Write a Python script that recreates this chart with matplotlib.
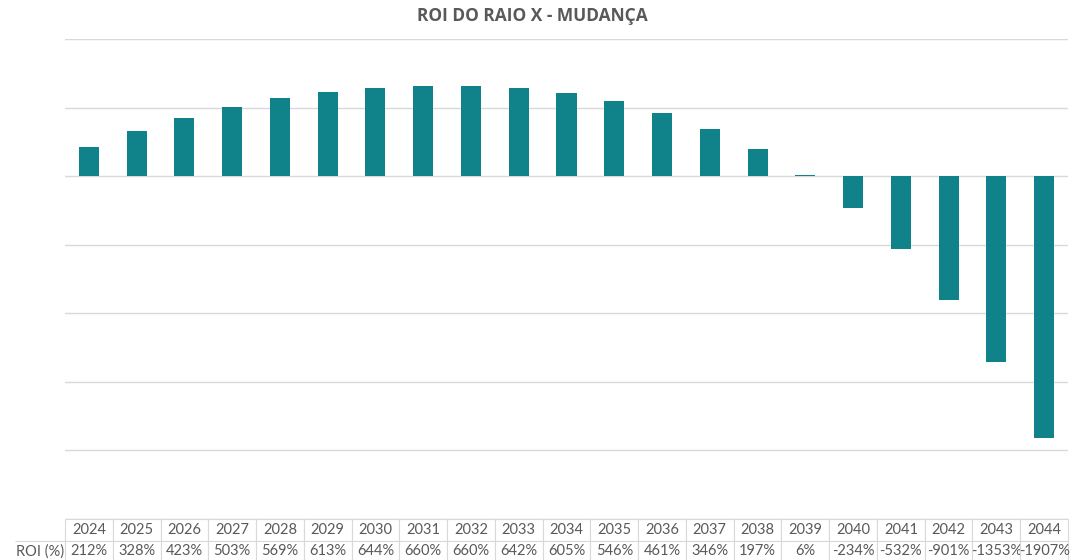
import matplotlib
matplotlib.use("Agg")
import matplotlib.pyplot as plt

# dados
anos = [str(a) for a in range(2024, 2045)]
roi = [212, 328, 423, 503, 569, 613, 644, 660, 660, 642, 605,
       546, 461, 346, 197, 6, -234, -532, -901, -1353, -1907]
rotulo_linha = "ROI (%)"
titulo = "ROI DO RAIO X - MUDANÇA"

COR_BARRA = "#0f8389"
COR_GRADE = "#d9d9d9"
COR_TEXTO = "#595959"

W, H = 1078, 560
fig = plt.figure(figsize=(W / 100, H / 100), dpi=100)
# area do grafico em pixels: x 65..1068, y 39..519
x0, x1, y0, y1 = 65, 1068, 39, 519
ax = fig.add_axes([x0 / W, 1 - y1 / H, (x1 - x0) / W, (y1 - y0) / H])

xs = range(len(anos))
ax.bar(xs, roi, width=0.42, color=COR_BARRA, zorder=3)
ax.set_xlim(-0.5, len(anos) - 0.5)
ax.set_ylim(-2500, 1000)
ax.set_yticks(range(-2500, 1001, 500))
ax.yaxis.grid(True, color=COR_GRADE, lw=1.0, zorder=0)
ax.tick_params(left=False, bottom=False, labelleft=False, labelbottom=False)
for s in ax.spines.values():
    s.set_visible(False)

fig.text(532 / W, 1 - 16 / H, titulo, ha="center", va="center",
         fontsize=12.5, fontweight="bold", color="#595959", family="Open Sans")

# tabela de dados abaixo do grafico
col_w = (x1 - x0) / len(anos)
lab_w = 50
celulas = [[""] + anos, [rotulo_linha] + [f"{v}%" for v in roi]]
larguras = [lab_w] + [col_w] * len(anos)
tot = sum(larguras)
row_h = 21.5
tab = ax.table(cellText=celulas, colWidths=[w / tot for w in larguras],
               cellLoc="center",
               bbox=[-lab_w / (x1 - x0), -2 * row_h / (y1 - y0),
                     tot / (x1 - x0), 2 * row_h / (y1 - y0)])
tab.auto_set_font_size(False)
for (r, c), cel in tab.get_celld().items():
    cel.set_edgecolor(COR_GRADE)
    cel.set_linewidth(0.8)
    cel.get_text().set_fontsize(10.5)
    cel.get_text().set_color(COR_TEXTO)
    cel.get_text().set_family("Lato")
    cel.PAD = 0.02
    if r == 0 and c == 0:
        cel.visible_edges = ""
    elif c == 0:
        cel.visible_edges = "T"

fig.savefig("out.png", dpi=100)
